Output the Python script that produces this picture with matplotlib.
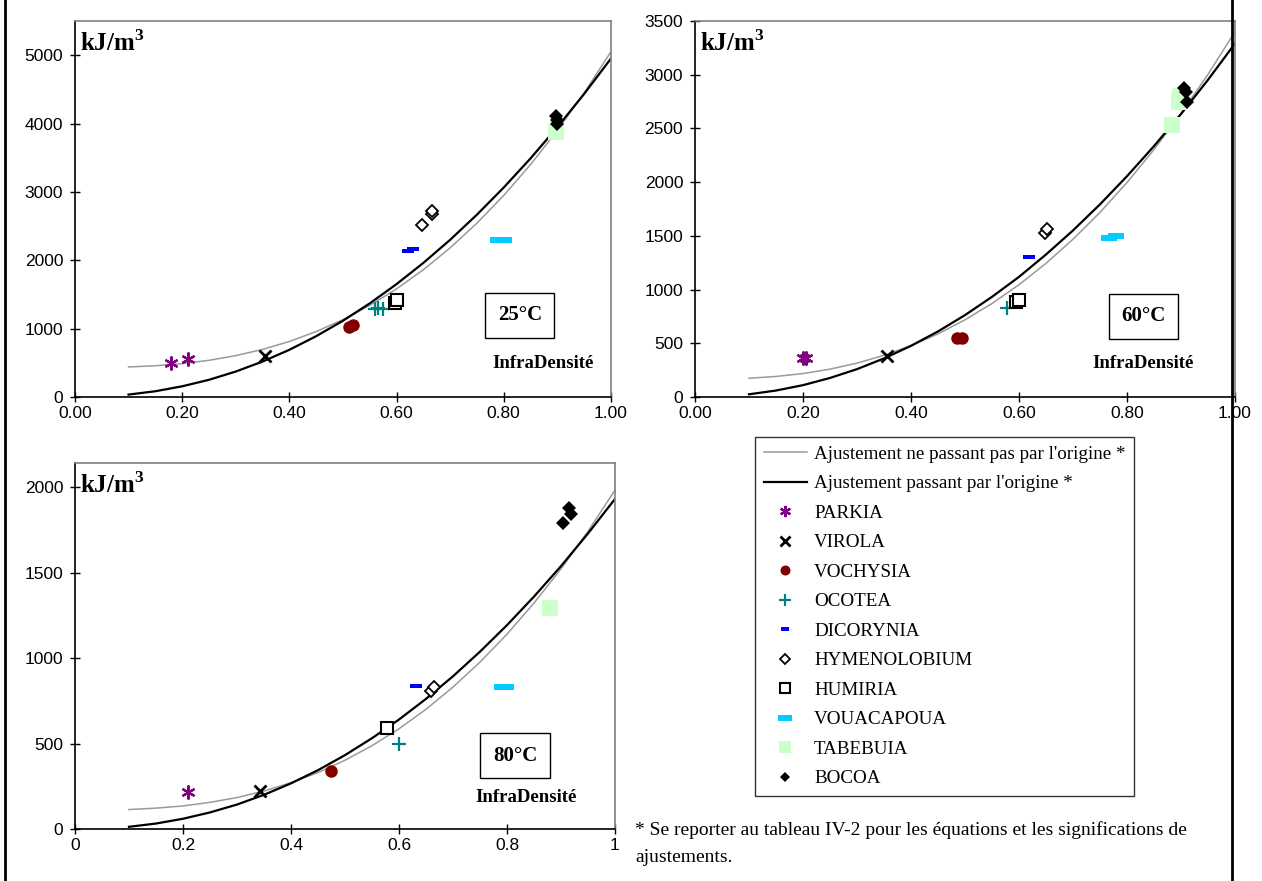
import matplotlib
matplotlib.use("Agg")
import matplotlib.pyplot as plt
from matplotlib.lines import Line2D

plt.rcParams["mathtext.fontset"] = "custom"
plt.rcParams["mathtext.rm"] = "Liberation Serif"
plt.rcParams["mathtext.bf"] = "Liberation Serif:bold"

# fitted curves at x = 0.10, 0.15 ... 1.00
fit_x = [0.10, 0.15, 0.20, 0.25, 0.30, 0.35, 0.40, 0.45, 0.50, 0.55,
         0.60, 0.65, 0.70, 0.75, 0.80, 0.85, 0.90, 0.95, 1.00]
fit25_free = [439, 457, 488, 536, 605, 696, 812, 957, 1131, 1339,
              1581, 1861, 2181, 2543, 2948, 3399, 3899, 4448, 5050]
fit25_orig = [35, 84, 156, 251, 372, 518, 690, 889, 1115, 1369,
              1651, 1961, 2299, 2667, 3064, 3490, 3947, 4433, 4950]
fit60_free = [174, 191, 218, 259, 315, 388, 478, 587, 718, 870,
              1045, 1244, 1468, 1718, 1996, 2303, 2638, 3003, 3400]
fit60_orig = [25, 60, 110, 177, 259, 359, 476, 610, 762, 932,
              1118, 1326, 1550, 1793, 2055, 2335, 2634, 2952, 3290]
fit80_free = [114, 122, 135, 156, 184, 222, 271, 330, 402, 487,
              586, 700, 830, 976, 1139, 1321, 1521, 1741, 1982]
fit80_orig = [13, 32, 60, 97, 143, 200, 267, 344, 432, 531,
              640, 761, 893, 1037, 1192, 1359, 1537, 1728, 1930]

species = ["PARKIA", "VIROLA", "VOCHYSIA", "OCOTEA", "DICORYNIA",
           "HYMENOLOBIUM", "HUMIRIA", "VOUACAPOUA", "TABEBUIA", "BOCOA"]

# measured points (infradensity, energy kJ/m3)
x25 = {"PARKIA": [0.18, 0.21], "VIROLA": [0.355], "VOCHYSIA": [0.512, 0.518],
       "OCOTEA": [0.56, 0.566, 0.574], "DICORYNIA": [0.622, 0.63],
       "HYMENOLOBIUM": [0.648, 0.667, 0.667], "HUMIRIA": [0.598, 0.60],
       "VOUACAPOUA": [0.79, 0.80], "TABEBUIA": [0.897], "BOCOA": [0.898, 0.90, 0.899]}
y25 = {"PARKIA": [490, 550], "VIROLA": [600], "VOCHYSIA": [1030, 1050],
       "OCOTEA": [1280, 1300, 1290], "DICORYNIA": [2140, 2170],
       "HYMENOLOBIUM": [2510, 2680, 2720], "HUMIRIA": [1375, 1420],
       "VOUACAPOUA": [2300, 2300], "TABEBUIA": [3880], "BOCOA": [4110, 4050, 4000]}

x60 = {"PARKIA": [0.20, 0.205], "VIROLA": [0.355], "VOCHYSIA": [0.485, 0.495],
       "OCOTEA": [0.577], "DICORYNIA": [0.619], "HYMENOLOBIUM": [0.648, 0.651],
       "HUMIRIA": [0.595, 0.60], "VOUACAPOUA": [0.766, 0.78],
       "TABEBUIA": [0.883, 0.897, 0.899], "BOCOA": [0.906, 0.911, 0.909]}
y60 = {"PARKIA": [360, 360], "VIROLA": [385], "VOCHYSIA": [550, 550],
       "OCOTEA": [830], "DICORYNIA": [1300], "HYMENOLOBIUM": [1530, 1560],
       "HUMIRIA": [880, 900], "VOUACAPOUA": [1480, 1500],
       "TABEBUIA": [2530, 2745, 2800], "BOCOA": [2876, 2745, 2840]}

x80 = {"PARKIA": [0.21], "VIROLA": [0.343], "VOCHYSIA": [0.474], "OCOTEA": [0.60],
       "DICORYNIA": [0.632], "HYMENOLOBIUM": [0.66, 0.665], "HUMIRIA": [0.578],
       "VOUACAPOUA": [0.79, 0.798], "TABEBUIA": [0.88],
       "BOCOA": [0.904, 0.915, 0.918]}
y80 = {"PARKIA": [218], "VIROLA": [222], "VOCHYSIA": [338], "OCOTEA": [500],
       "DICORYNIA": [834], "HYMENOLOBIUM": [810, 830], "HUMIRIA": [589],
       "VOUACAPOUA": [830, 830], "TABEBUIA": [1290],
       "BOCOA": [1790, 1878, 1843]}

ticks_x = [0, 0.2, 0.4, 0.6, 0.8, 1.0]
labels_x_top = ["0.00", "0.20", "0.40", "0.60", "0.80", "1.00"]
labels_x_bottom = ["0", "0.2", "0.4", "0.6", "0.8", "1"]

dash = [(-1, -0.4), (1, -0.4), (1, 0.4), (-1, 0.4), (-1, -0.4)]
style = {
    "PARKIA": dict(marker=(6, 2, 0), color="#800080", ms=10, mew=1.6),
    "VIROLA": dict(marker="x", color="black", ms=9, mew=2),
    "VOCHYSIA": dict(marker="o", color="#800000", ms=9, mew=0),
    "OCOTEA": dict(marker="+", color="#008080", ms=10, mew=1.6),
    "DICORYNIA": dict(marker=dash, color="#0000FF", ms=8, mew=0),
    "HYMENOLOBIUM": dict(marker="D", mfc="white", mec="black", ms=6, mew=1.3),
    "HUMIRIA": dict(marker="s", mfc="white", mec="black", ms=9, mew=1.5),
    "VOUACAPOUA": dict(marker=dash, color="#00CCFF", ms=12, mew=0),
    "TABEBUIA": dict(marker="s", color="#CCFFCC", ms=11, mew=0),
    "BOCOA": dict(marker="D", color="black", ms=7, mew=0),
}

serif = "Liberation Serif"
sans = "Liberation Sans"

fig = plt.figure(figsize=(12.62, 8.81), dpi=100)


def panel(rect, ymax, ystep, xs, ys, free, orig, xlabels, temp, temp_pos, dens_pos):
    ax = fig.add_axes(rect)
    ax.plot(fit_x, free, color="#9a9a9a", lw=1.1, zorder=2)
    ax.plot(fit_x, orig, color="black", lw=1.6, zorder=2)
    for sp in species:
        ax.plot(xs[sp], ys[sp], ls="none", zorder=3, **style[sp])
    ax.set_xlim(0, 1)
    ax.set_ylim(0, ymax)
    ax.set_xticks(ticks_x)
    ax.set_xticklabels(xlabels, fontfamily=sans, fontsize=12.5)
    yt = list(range(0, int(ymax) + 1, ystep))
    ax.set_yticks(yt)
    ax.set_yticklabels([str(v) for v in yt], fontfamily=sans, fontsize=12.5)
    ax.tick_params(direction="inout", length=7, width=1)
    ax.tick_params(axis="x", pad=3)
    ax.tick_params(axis="y", pad=5)
    for s in ["left", "bottom"]:
        ax.spines[s].set_color("black")
        ax.spines[s].set_linewidth(1.2)
    for s in ["top", "right"]:
        ax.spines[s].set_color("#808080")
        ax.spines[s].set_linewidth(1.2)
    ax.text(0.01, 0.975, "kJ/m$^{\\mathbf{3}}$", transform=ax.transAxes, ha="left", va="top",
            fontfamily=serif, fontweight="bold", fontsize=18)
    ax.text(temp_pos[0], temp_pos[1], temp, transform=ax.transAxes, ha="center", va="center",
            fontfamily=serif, fontweight="bold", fontsize=15,
            bbox=dict(boxstyle="square,pad=0.6", fc="white", ec="black", lw=1))
    ax.text(dens_pos[0], dens_pos[1], "InfraDensité", transform=ax.transAxes, ha="center",
            va="center", fontfamily=serif, fontweight="bold", fontsize=13.5)
    return ax


panel([0.0594, 0.5494, 0.4247, 0.4268], 5500, 1000, x25, y25, fit25_free, fit25_orig,
      labels_x_top, "25°C", (0.83, 0.218), (0.873, 0.09))
panel([0.5507, 0.5494, 0.4279, 0.4268], 3500, 500, x60, y60, fit60_free, fit60_orig,
      labels_x_top, "60°C", (0.831, 0.215), (0.83, 0.09))
panel([0.0594, 0.0590, 0.4279, 0.4154], 2140, 500, x80, y80, fit80_free, fit80_orig,
      labels_x_bottom, "80°C", (0.815, 0.20), (0.835, 0.085))

handles = [Line2D([], [], color="#9a9a9a", lw=1.1),
           Line2D([], [], color="black", lw=1.6)]
for sp in species:
    st = dict(style[sp])
    st["ms"] = st["ms"] * 0.8
    handles.append(Line2D([], [], ls="none", **st))
labels = ["Ajustement ne passant pas par l'origine *",
          "Ajustement passant par l'origine *"] + species
leg = fig.legend(handles, labels, loc="upper left", bbox_to_anchor=(755 / 1262, 1 - 437 / 881),
                 prop={"family": serif, "size": 13.7}, frameon=True, fancybox=False,
                 edgecolor="black", handlelength=2.3, handletextpad=0.35,
                 labelspacing=0.64, borderpad=0.45, borderaxespad=0)
leg.get_frame().set_linewidth(1)

fig.text(635 / 1262, 1 - 830 / 881,
         "* Se reporter au tableau IV-2 pour les équations et les significations de",
         fontfamily=serif, fontsize=14, va="center", ha="left")
fig.text(635 / 1262, 1 - 857 / 881, "ajustements.",
         fontfamily=serif, fontsize=14, va="center", ha="left")

# page borders
fig.add_artist(Line2D([5 / 1262, 5 / 1262], [0, 1], color="black", lw=2))
fig.add_artist(Line2D([1232 / 1262, 1232 / 1262], [0, 1], color="black", lw=2))

fig.savefig("out.png", dpi=100)
